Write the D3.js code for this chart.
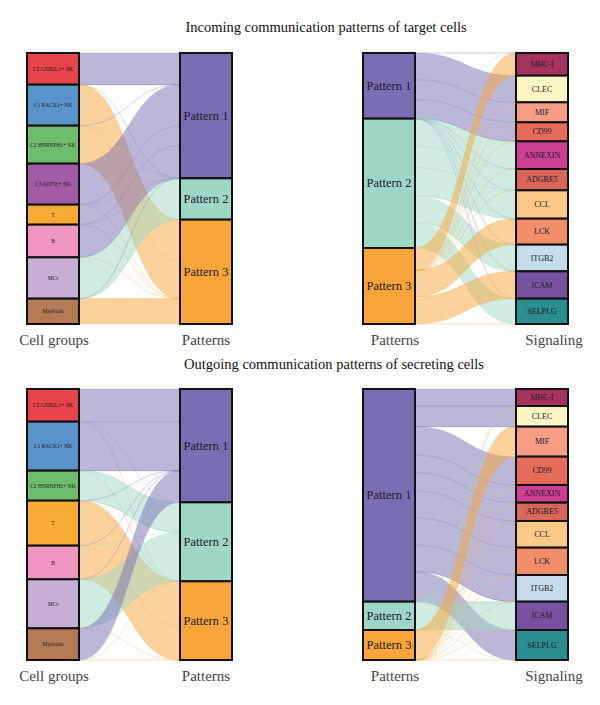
<!DOCTYPE html><head><meta charset = "utf-8">
<title>communication patterns</title>
<style type = "text/css">
body { margin: 0; background: white; }
svg { display: block; }
text { font-family: "Liberation Serif", "DejaVu Serif", serif; }
</style>
<script type="text/javascript" src="https://cdn.jsdelivr.net/npm/d3@7"></script>
</head><body>
<div id="chart"></div>

<script type="text/javascript">

// node names
var groupsIn = ["C0 GNB2L1+ NK", "C1 RACK1+ NK", "C2 HNRNPH1+ NK", "C3 ATP5E+ NK", "T", "B", "MCs", "Myeloids"];
var groupsOut = ["C0 GNB2L1+ NK", "C1 RACK1+ NK", "C2 HNRNPH1+ NK", "T", "B", "MCs", "Myeloids"];
var patterns = ["Pattern 1", "Pattern 2", "Pattern 3"];
var signaling = ["MHC-I", "CLEC", "MIF", "CD99", "ANNEXIN", "ADGRE5", "CCL", "LCK", "ITGB2", "ICAM", "SELPLG"];

// contributions (rows = left column, cols = right column)
var inGroupPattern = [
  [95, 0, 0],
  [0, 0, 123],
  [0, 0, 114],
  [123, 0, 0],
  [60, 0, 0],
  [98, 0, 0],
  [0, 124, 0],
  [0, 0, 76]
];
var inPatternSignal = [
  [0, 80, 60, 57, 0, 0, 0, 0, 0, 0, 0],
  [0, 0, 0, 0, 83, 64, 85, 0, 80, 0, 76],
  [68, 0, 0, 0, 0, 0, 0, 78, 0, 82, 0]
];
var outGroupPattern = [
  [98, 0, 0],
  [147, 0, 0],
  [0, 90, 0],
  [0, 0, 135],
  [0, 0, 101],
  [0, 147, 0],
  [95, 0, 0]
];
var outPatternSignal = [
  [51, 62, 0, 85, 53, 55, 80, 82, 80, 0, 90],
  [0, 0, 0, 0, 0, 0, 0, 0, 0, 85, 0],
  [0, 0, 90, 0, 0, 0, 0, 0, 0, 0, 0]
];

// colours
var groupColor = {"C0 GNB2L1+ NK": "#e8444c", "C1 RACK1+ NK": "#5894ca", "C2 HNRNPH1+ NK": "#6dbd6c",
  "C3 ATP5E+ NK": "#a25ca7", "T": "#f6ab34", "B": "#ef96c3", "MCs": "#c8aed4", "Myeloids": "#b37a55"};
var patternColor = ["#7a6db3", "#9fd7c6", "#f8a639"];
var signalColor = ["#a8325f", "#fdf6c4", "#f69d86", "#e66b5b", "#cd3f92", "#d9665a",
  "#fbc888", "#f38c69", "#c4dcec", "#7852a1", "#2b8d8f"];

var W = 600, H = 705, colW = 52;

var svg = d3.select("#chart").append("svg").attr("width", W).attr("height", H);

// one river panel: left column -> right column
function drawPanel(opt) {
  var g = svg.append("g");
  var m = opt.matrix;
  var rowSum = m.map(r => d3.sum(r));
  var colSum = m[0].map((d, j) => d3.sum(m, r => r[j]));
  var total = d3.sum(rowSum);
  var y = d3.scaleLinear().domain([0, total]).range([opt.top, opt.bottom]);

  var lcum = d3.cumsum([0].concat(rowSum));
  var rcum = d3.cumsum([0].concat(colSum));

  // where each flow sits inside its left and right node
  var flows = [];
  var lpos = [], rpos = [];
  for (var i = 0; i < m.length; i++) {
    lpos[i] = [];
    var o = lcum[i];
    for (var j = 0; j < m[i].length; j++) { lpos[i][j] = o; o += m[i][j]; }
  }
  for (var j = 0; j < colSum.length; j++) {
    var o = rcum[j];
    for (var i = 0; i < m.length; i++) { rpos[i] = rpos[i] || []; rpos[i][j] = o; o += m[i][j]; }
  }
  for (var i = 0; i < m.length; i++)
    for (var j = 0; j < m[i].length; j++)
      flows.push({i: i, j: j, v: m[i][j], l: lpos[i][j], r: rpos[i][j]});

  var x0 = opt.lx + colW, x1 = opt.rx, xm = (x0 + x1) / 2;
  function flowPath(f) {
    var a0 = y(f.l), a1 = y(f.l + f.v), b0 = y(f.r), b1 = y(f.r + f.v);
    return "M" + x0 + "," + a0 + "C" + xm + "," + a0 + " " + xm + "," + b0 + " " + x1 + "," + b0 +
      "L" + x1 + "," + b1 + "C" + xm + "," + b1 + " " + xm + "," + a1 + " " + x0 + "," + a1 + "Z";
  }
  var fcol = f => opt.colorBy == "left" ? patternColor[f.i] : patternColor[f.j];
  g.selectAll("path.flow")
    .data(flows)
    .join("path").attr("class", "flow")
    .attr("d", flowPath)
    .attr("fill", fcol)
    .attr("fill-opacity", 0.5)
    .attr("stroke", fcol)
    .attr("stroke-opacity", 0.25)
    .attr("stroke-width", 0.7);

  var left = opt.leftNames.map((n, i) => ({name: n, y0: y(lcum[i]), y1: y(lcum[i + 1]), c: opt.leftColors[i]}));
  var right = opt.rightNames.map((n, j) => ({name: n, y0: y(rcum[j]), y1: y(rcum[j + 1]), c: opt.rightColors[j]}));
  [[left, opt.lx, opt.leftFont], [right, opt.rx, opt.rightFont]].forEach(function(s) {
    var nodes = g.append("g");
    nodes.selectAll("rect")
      .data(s[0])
      .join("rect")
      .attr("x", s[1]).attr("y", d => d.y0)
      .attr("width", colW).attr("height", d => d.y1 - d.y0)
      .attr("fill", d => d.c)
      .attr("stroke", "#111").attr("stroke-width", 2);
    nodes.selectAll("text")
      .data(s[0])
      .join("text")
      .attr("x", s[1] + colW / 2).attr("y", d => (d.y0 + d.y1) / 2)
      .attr("text-anchor", "middle").attr("dominant-baseline", "central")
      .style("font-size", s[2] + "px").attr("fill", "#221a28")
      .text(d => d.name);
  });

  // column titles
  g.selectAll("text.axis")
    .data(opt.axisNames)
    .join("text").attr("class", "axis")
    .attr("x", (d, k) => (k == 0 ? opt.lx : opt.rx) + colW / 2 + opt.axisShift[k])
    .attr("y", opt.bottom + 21)
    .attr("text-anchor", "middle")
    .style("font-size", "15px").attr("fill", "#444")
    .text(d => d);
}

var rows = [
  {title: "Incoming communication patterns of target cells", top: 53, bottom: 324, ty: 32, tx: 326,
   gm: inGroupPattern, groups: groupsIn, pm: inPatternSignal},
  {title: "Outgoing communication patterns of secreting cells", top: 389, bottom: 660, ty: 369, tx: 334,
   gm: outGroupPattern, groups: groupsOut, pm: outPatternSignal}
];

rows.forEach(function(r) {
  svg.append("text")
    .attr("x", r.tx).attr("y", r.ty)
    .attr("text-anchor", "middle")
    .style("font-size", "14.5px").attr("fill", "#111")
    .text(r.title);
  drawPanel({matrix: r.gm, top: r.top, bottom: r.bottom, lx: 27, rx: 180, colorBy: "right",
    leftNames: r.groups, leftColors: r.groups.map(n => groupColor[n]), leftFont: 5.5,
    rightNames: patterns, rightColors: patternColor, rightFont: 12.5,
    axisNames: ["Cell groups", "Patterns"], axisShift: [1, 0]});
  drawPanel({matrix: r.pm, top: r.top, bottom: r.bottom, lx: 363, rx: 516, colorBy: "left",
    leftNames: patterns, leftColors: patternColor, leftFont: 12.5,
    rightNames: signaling, rightColors: signalColor, rightFont: 8,
    axisNames: ["Patterns", "Signaling"], axisShift: [6, 12]});
});

</script>
</body></html>
